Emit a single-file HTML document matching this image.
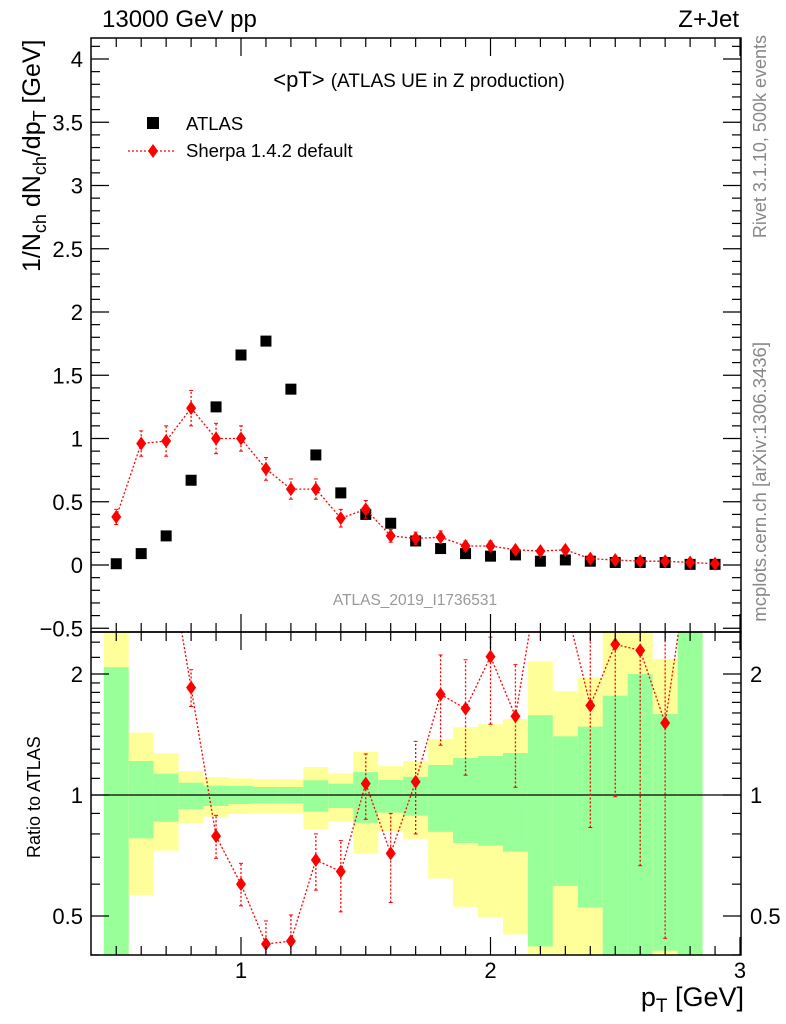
<!DOCTYPE html>
<html><head><meta charset="utf-8"><style>
html,body{margin:0;padding:0;background:#fff;}
svg{display:block;font-family:"Liberation Sans",sans-serif;}
</style></head><body>
<svg id="c" width="786" height="1024" viewBox="0 0 786 1024"></svg>
<script>
const bins=[0.5,0.6,0.7,0.8,0.9,1.0,1.1,1.2,1.3,1.4,1.5,1.6,1.7,1.8,1.9,2.0,2.1,2.2,2.3,2.4,2.5,2.6,2.7,2.8,2.9];
const atlasVals=[0.01,0.09,0.23,0.67,1.25,1.66,1.77,1.39,0.87,0.57,0.40,0.33,0.19,0.13,0.09,0.07,0.08,0.03,0.04,0.03,0.02,0.02,0.02,0.005,0.005];
const sherpaVals=[0.38,0.96,0.98,1.24,1.0,1.0,0.76,0.60,0.60,0.37,0.44,0.23,0.21,0.22,0.15,0.15,0.12,0.11,0.12,0.05,0.04,0.03,0.03,0.02,0.01];
const sherpaErr=[0.06,0.1,0.12,0.14,0.12,0.1,0.09,0.08,0.08,0.07,0.07,0.05,0.05,0.05,0.04,0.04,0.03,0.03,0.03,0.03,0.03,0.03,0.03,0.03,0.03];
const ratioVals=[38,10.7,4.3,1.85,0.79,0.60,0.426,0.433,0.689,0.645,1.067,0.716,1.079,1.78,1.64,2.21,1.57,3.7,3.0,1.67,2.37,2.29,1.51,4,5];
const ratioHi=[60,16,6,2.05,0.89,0.676,0.486,0.503,0.8,0.77,1.265,0.9,1.36,2.23,2.17,2.47,2.11,5,5,5,5,5,5,6,8];
const ratioLo=[20,6,3,1.66,0.696,0.53,0.3,0.3,0.58,0.512,0.87,0.54,0.8,1.33,1.12,1.5,1.045,2.6,2.6,0.83,0.99,0.667,0.44,2.6,3];
const yellowTop=[2.6,1.43,1.27,1.147,1.108,1.10,1.094,1.094,1.174,1.13,1.28,1.18,1.215,1.378,1.476,1.50,1.546,2.15,1.81,1.96,2.6,2.6,2.18,2.6,1];
const greenTop=[2.08,1.215,1.13,1.073,1.055,1.053,1.047,1.047,1.088,1.067,1.14,1.09,1.11,1.188,1.236,1.25,1.272,1.58,1.40,1.48,1.766,2.0,1.59,2.6,1];
const greenBot=[0.35,0.78,0.858,0.923,0.939,0.95,0.954,0.954,0.909,0.928,0.853,0.904,0.888,0.81,0.76,0.748,0.723,0.42,0.594,0.525,0.35,0.35,0.41,0.35,1];
const yellowBot=[0.35,0.564,0.727,0.85,0.883,0.897,0.902,0.902,0.823,0.86,0.716,0.812,0.778,0.62,0.527,0.497,0.45,0.35,0.35,0.35,0.35,0.35,0.35,0.35,1];
const yTicks=[-0.5,0,0.5,1,1.5,2,2.5,3,3.5,4];
const yTickLabels=["\u22120.5","0","0.5","1","1.5","2","2.5","3","3.5","4"];
const rTicks=[0.5,1,2];
const rTickLabels=["0.5","1","2"];
const xTicks=[1,2,3];
const xTickLabels=["1","2","3"];

const L=91,R=741,T=38,M=632,B=955;
const X=v=>241+(v-1)*249.5;
const Y=v=>565-126.5*v;
const RY=r=>795-121*Math.log2(r);
const NS="http://www.w3.org/2000/svg";
const svg=document.getElementById('c');
function el(tag,attrs,parent){const e=document.createElementNS(NS,tag);for(const k in attrs)e.setAttribute(k,attrs[k]);(parent||svg).appendChild(e);return e;}
function txt(s,attrs,parent){const e=el('text',attrs,parent);e.textContent=s;return e;}

const defs=el('defs',{});
const cp1=el('clipPath',{id:'cm'},defs);el('rect',{x:L,y:T,width:R-L,height:M-T},cp1);
const cp2=el('clipPath',{id:'cr'},defs);el('rect',{x:L,y:M,width:R-L,height:B-M},cp2);

const gr=el('g',{'clip-path':'url(#cr)'});


bins.forEach((b,i)=>{
  const x0=X(b-0.05),x1=X(b+0.05);
  const y1=el('rect',{x:x0,y:RY(yellowTop[i]),width:x1-x0,height:RY(yellowBot[i])-RY(yellowTop[i]),fill:'#ffff99'},gr);
  
  
  const g1=el('rect',{x:x0,y:RY(greenTop[i]),width:x1-x0,height:RY(greenBot[i])-RY(greenTop[i]),fill:'#99ff99'},gr);
  
  
});
el('line',{x1:L,x2:R,y1:RY(1),y2:RY(1),stroke:'#000','stroke-width':1.2},gr);

const rg=el('g',{'clip-path':'url(#cr)'});


el('polyline',{points:bins.map((b,i)=>X(b)+','+RY(ratioVals[i])).join(' '),fill:'none',stroke:'#f00','stroke-width':1.3,'stroke-dasharray':'2,2'},rg);
bins.forEach((b,i)=>{
  const x=X(b);
  el('line',{x1:x,x2:x,y1:RY(ratioLo[i]),y2:RY(ratioHi[i]),stroke:'#f00','stroke-width':1.3,'stroke-dasharray':'2,2'},rg);
  el('line',{x1:x-2,x2:x+2,y1:RY(ratioLo[i]),y2:RY(ratioLo[i]),stroke:'#f00','stroke-width':1},rg);
  el('line',{x1:x-2,x2:x+2,y1:RY(ratioHi[i]),y2:RY(ratioHi[i]),stroke:'#f00','stroke-width':1},rg);
  const y=RY(ratioVals[i]);
  const d=el('polygon',{points:`${x},${y-7} ${x+5},${y} ${x},${y+7} ${x-5},${y}`,fill:'#f00'},rg);
  
  
});

const mg=el('g',{'clip-path':'url(#cm)'});


bins.forEach((b,i)=>{
  const s=el('rect',{x:X(b)-5.5,y:Y(atlasVals[i])-5.5,width:11,height:11,fill:'#000'},mg);
  
  
});
el('polyline',{points:bins.map((b,i)=>X(b)+','+Y(sherpaVals[i])).join(' '),fill:'none',stroke:'#f00','stroke-width':1.3,'stroke-dasharray':'2,2'},mg);
bins.forEach((b,i)=>{
  const x=X(b),lo=Y(sherpaVals[i]-sherpaErr[i]),hi=Y(sherpaVals[i]+sherpaErr[i]);
  el('line',{x1:x,x2:x,y1:lo,y2:hi,stroke:'#f00','stroke-width':1.3,'stroke-dasharray':'2,2'},mg);
  el('line',{x1:x-2,x2:x+2,y1:lo,y2:lo,stroke:'#f00','stroke-width':1},mg);
  el('line',{x1:x-2,x2:x+2,y1:hi,y2:hi,stroke:'#f00','stroke-width':1},mg);
  const y=Y(sherpaVals[i]);
  const d=el('polygon',{points:`${x},${y-7} ${x+5},${y} ${x},${y+7} ${x-5},${y}`,fill:'#f00'},mg);
  
  
});

el('rect',{x:L,y:T,width:R-L,height:M-T,fill:'none',stroke:'#000','stroke-width':1.5});
el('rect',{x:L,y:M,width:R-L,height:B-M,fill:'none',stroke:'#000','stroke-width':1.5});

const ax=el('g',{stroke:'#000','stroke-width':1.2});


for(let k=5;k<=30;k++){
  const v=k/10,x=X(v),big=(k%10===0),h=big?18:9;
  if(x<L||x>R)continue;
  el('line',{x1:x,x2:x,y1:T,y2:T+h},ax);el('line',{x1:x,x2:x,y1:M,y2:M-h},ax);
  el('line',{x1:x,x2:x,y1:M,y2:M+h},ax);el('line',{x1:x,x2:x,y1:B,y2:B-h},ax);
}
for(let k=-5;k<=41;k++){
  const v=k/10,y=Y(v),big=(k%5===0),h=big?18:9;
  el('line',{x1:L,x2:L+h,y1:y,y2:y},ax);el('line',{x1:R,x2:R-h,y1:y,y2:y},ax);
}
[0.4,0.5,0.6,0.7,0.8,0.9,1,1.1,1.2,1.3,1.4,1.5,1.6,1.7,1.8,1.9,2,2.2,2.4].forEach(v=>{
  const y=RY(v),big=(v===0.5||v===1||v===2),h=big?18:9;
  el('line',{x1:L,x2:L+h,y1:y,y2:y},ax);el('line',{x1:R,x2:R-h,y1:y,y2:y},ax);
});

yTicks.forEach((v,i)=>{const t=txt(yTickLabels[i],{x:83,y:Y(v)+8,'font-size':22,'text-anchor':'end'});});
rTicks.forEach((v,i)=>{
  const t=txt(rTickLabels[i],{x:83,y:RY(v)+8,'font-size':22,'text-anchor':'end'});
  const t2=txt(rTickLabels[i],{x:750,y:RY(v)+8,'font-size':22});
});
xTicks.forEach((v,i)=>{const t=txt(xTickLabels[i],{x:X(v),y:978,'font-size':22,'text-anchor':'middle'});});
</script>
<svg style="position:absolute;left:0;top:0" width="786" height="1024">
<text x="102" y="27" font-size="24" font-family="Liberation Sans">13000 GeV pp</text>
<text x="739" y="27" font-size="24" font-family="Liberation Sans" text-anchor="end">Z+Jet</text>
<text x="419" y="87" font-size="22" font-family="Liberation Sans" text-anchor="middle">&lt;pT&gt; <tspan font-size="19">(ATLAS UE in Z production)</tspan></text>
<rect x="147" y="117" width="12" height="12" fill="#000"/>
<text x="186" y="130" font-size="18.5" font-family="Liberation Sans">ATLAS</text>
<line x1="128" x2="176" y1="151" y2="151" stroke="#f00" stroke-width="1.3" stroke-dasharray="2,2"/>
<polygon points="153,144 158,151 153,158 148,151" fill="#f00"/>
<text x="186" y="157" font-size="18.5" font-family="Liberation Sans">Sherpa 1.4.2 default</text>
<text x="415" y="605" font-size="15.5" fill="#999" font-family="Liberation Sans" text-anchor="middle">ATLAS_2019_I1736531</text>
<text transform="translate(766,35) rotate(-90)" font-size="18" fill="#888" font-family="Liberation Sans" text-anchor="end">Rivet 3.1.10,  500k events</text>
<text transform="translate(766,342) rotate(-90)" font-size="18.5" fill="#888" font-family="Liberation Sans" text-anchor="end">mcplots.cern.ch [arXiv:1306.3436]</text>
<text transform="translate(40,272) rotate(-90)" font-size="25" font-family="Liberation Sans">1/N<tspan font-size="18" dy="6">ch</tspan><tspan dy="-6"> dN</tspan><tspan font-size="18" dy="6">ch</tspan><tspan dy="-6">/dp</tspan><tspan font-size="18" dy="6">T</tspan><tspan dy="-6"> [GeV]</tspan></text>
<text transform="translate(40,858) rotate(-90)" font-size="18" font-family="Liberation Sans">Ratio to ATLAS</text>
<text x="744" y="1006" font-size="27" font-family="Liberation Sans" text-anchor="end">p<tspan font-size="19" dy="6">T</tspan><tspan dy="-6"> [GeV]</tspan></text>
</svg>
</body></html>
